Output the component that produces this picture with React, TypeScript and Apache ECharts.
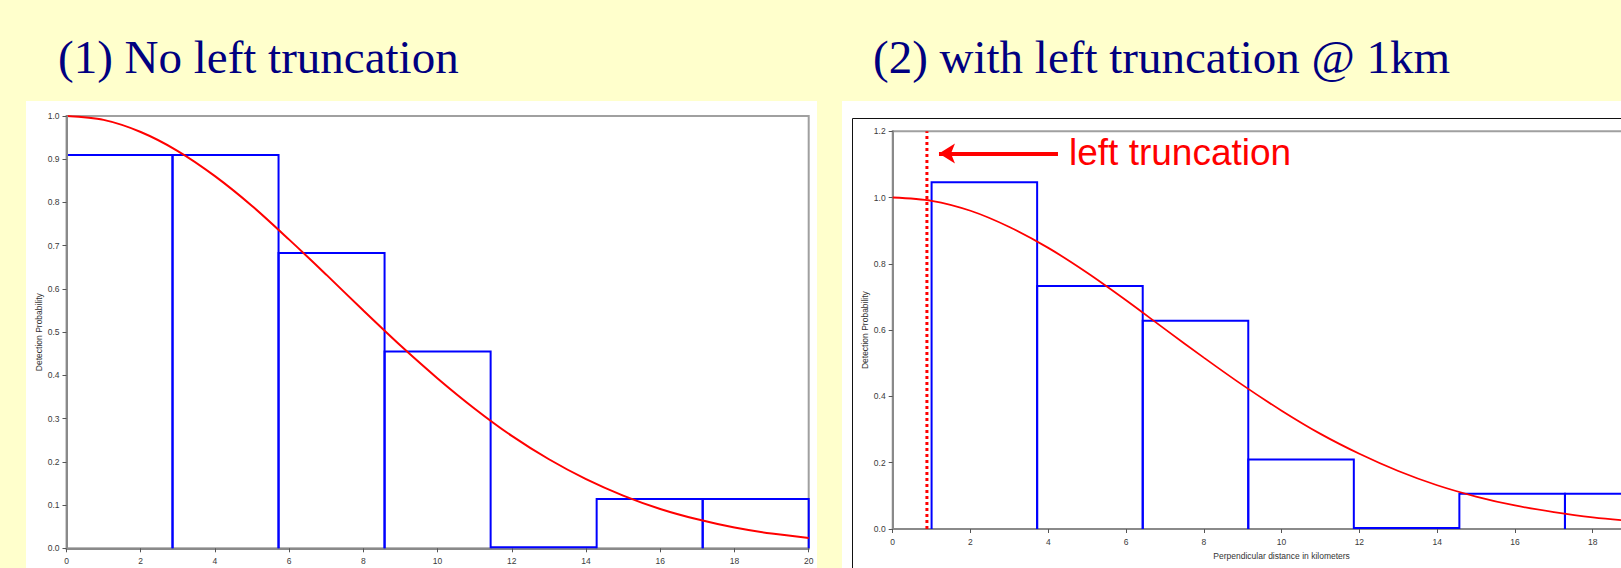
import React, { useEffect, useRef } from "react";
import * as echarts from "echarts";

// ---- data ----
const TITLE_LEFT = "(1) No left truncation";
const TITLE_RIGHT = "(2) with left truncation @ 1km";
const ANNOTATION = "left truncation";
const X_NAME = "Perpendicular distance in kilometers";
const Y_NAME = "Detection Probability";

const LEFT_BIN_EDGES = [0, 2.857, 5.714, 8.571, 11.429, 14.286, 17.143, 20];
const LEFT_BIN_HEIGHTS = [0.91, 0.91, 0.683, 0.455, 0, 0.114, 0.114];
const RIGHT_BIN_EDGES = [1, 3.714, 6.429, 9.143, 11.857, 14.571, 17.286, 20];
const RIGHT_BIN_HEIGHTS = [1.046, 0.733, 0.628, 0.21, 0, 0.106, 0.106];

const CURVE_X = [0, 1, 2, 3, 4, 5, 6, 7, 8, 9, 10, 11, 12, 13, 14, 15, 16, 17, 18, 19, 20];
const LEFT_CURVE_Y = [1.0, 0.991, 0.963, 0.919, 0.861, 0.792, 0.714, 0.633, 0.55, 0.469, 0.393, 0.323, 0.26, 0.206, 0.16, 0.122, 0.091, 0.067, 0.048, 0.034, 0.024];
const RIGHT_CURVE_Y = [1.0, 0.99, 0.96, 0.911, 0.848, 0.773, 0.69, 0.603, 0.517, 0.434, 0.357, 0.287, 0.227, 0.175, 0.132, 0.098, 0.071, 0.051, 0.035, 0.024, 0.016];

const TRUNCATION_X = 0.88;
const ARROW_FROM = [4.25, 1.133];
const ARROW_TO = [1.19, 1.133];

const LEFT_Y_MAX = 1.0;
const LEFT_Y_STEP = 0.1;
const RIGHT_Y_MAX = 1.2;
const RIGHT_Y_STEP = 0.2;
const X_MAX = 20;
const X_STEP = 2;

const BLUE = "#0000ff";
const RED = "#ff0000";
const AXIS_GRAY = "#8a8a8a";
const LABEL_COLOR = "#3a3a3a";
const FONT = "'Liberation Sans', Arial, sans-serif";

function bins(edges: number[], heights: number[]) {
  return heights.map((h, i) => [edges[i], edges[i + 1], h]);
}

function histRender(params: any, api: any) {
  const x0 = api.value(0);
  const x1 = api.value(1);
  const h = api.value(2);
  const a = api.coord([x0, 0]);
  const b = api.coord([x0, h]);
  const c = api.coord([x1, h]);
  const d = api.coord([x1, 0]);
  let pts: number[][];
  if (h === 0) pts = [[a[0], a[1] - 1], [d[0], d[1] - 1]];
  else if (x0 === 0) pts = [b, c, d]; // left side hidden under the y axis
  else pts = [a, b, c, d];
  return {
    type: "polyline",
    shape: { points: pts },
    style: { fill: "none", stroke: BLUE, lineWidth: 2 },
  };
}

function xAxisCfg(gridIndex: number, withName: boolean) {
  return {
    gridIndex,
    type: "value",
    min: 0,
    max: X_MAX,
    interval: X_STEP,
    z: 1,
    axisLine: { show: true, lineStyle: { color: AXIS_GRAY, width: 2 } },
    axisTick: { show: true, length: 4, lineStyle: { color: "#555", width: 1 } },
    axisLabel: {
      fontSize: 8.5,
      color: LABEL_COLOR,
      margin: 8,
      fontFamily: FONT,
      showMaxLabel: !withName,
    },
    splitLine: { show: false },
    name: withName ? X_NAME : "",
    nameLocation: "middle",
    nameGap: 22,
    nameTextStyle: { fontSize: 8.5, color: "#333", fontFamily: FONT },
  };
}

function yAxisCfg(gridIndex: number, max: number, step: number, z: number, gap: number) {
  return {
    gridIndex,
    type: "value",
    min: 0,
    max,
    interval: step,
    z,
    axisLine: { show: true, lineStyle: { color: AXIS_GRAY, width: 2 } },
    axisTick: { show: true, length: 4, lineStyle: { color: "#555", width: 1 } },
    axisLabel: {
      fontSize: 8.5,
      color: LABEL_COLOR,
      margin: 7,
      fontFamily: FONT,
      formatter: (v: number) => v.toFixed(1),
    },
    splitLine: { show: false },
    name: Y_NAME,
    nameLocation: "middle",
    nameGap: gap,
    nameTextStyle: { fontSize: 8.5, color: "#333", fontFamily: FONT },
  };
}

export default function App() {
  const ref = useRef<HTMLDivElement>(null);

  useEffect(() => {
    if (!ref.current) return;
    const chart = echarts.init(ref.current, undefined, { renderer: "svg" });

    const option: any = {
      animation: false,
      backgroundColor: "#FFFFCC",
      grid: [
        {
          left: 66.5,
          top: 116,
          width: 742.2,
          height: 432.3,
          show: true,
          borderColor: "#a0a0a0",
          borderWidth: 2,
          backgroundColor: "transparent",
        },
        {
          left: 892.7,
          top: 131.2,
          width: 777.8,
          height: 397.8,
          show: true,
          borderColor: "#a0a0a0",
          borderWidth: 2,
          backgroundColor: "transparent",
        },
      ],
      xAxis: [xAxisCfg(0, false), xAxisCfg(1, true)],
      yAxis: [
        yAxisCfg(0, LEFT_Y_MAX, LEFT_Y_STEP, 5, 21),
        yAxisCfg(1, RIGHT_Y_MAX, RIGHT_Y_STEP, 0, 22),
      ],
      graphic: [
        {
          type: "rect",
          z: -10,
          silent: true,
          shape: { x: 26, y: 101, width: 791, height: 480 },
          style: { fill: "#ffffff" },
        },
        {
          type: "rect",
          z: -10,
          silent: true,
          shape: { x: 842, y: 101, width: 900, height: 480 },
          style: { fill: "#ffffff" },
        },
        {
          type: "rect",
          z: -9,
          silent: true,
          shape: { x: 852.5, y: 118.5, width: 880, height: 480 },
          style: { fill: "none", stroke: "#111", lineWidth: 1 },
        },
        {
          type: "text",
          z: 10,
          x: 58,
          y: 57,
          style: {
            text: TITLE_LEFT,
            fontFamily: "'Liberation Serif', 'Times New Roman', serif",
            fontSize: 47,
            fill: "#000080",
            verticalAlign: "middle",
          },
        },
        {
          type: "text",
          z: 10,
          x: 873,
          y: 57,
          style: {
            text: TITLE_RIGHT,
            fontFamily: "'Liberation Serif', 'Times New Roman', serif",
            fontSize: 47,
            fill: "#000080",
            verticalAlign: "middle",
          },
        },
        {
          type: "text",
          z: 10,
          x: 1069,
          y: 152,
          style: {
            text: ANNOTATION,
            fontFamily: FONT,
            fontSize: 37,
            fill: RED,
            verticalAlign: "middle",
          },
        },
      ],
      series: [
        {
          type: "custom",
          xAxisIndex: 0,
          yAxisIndex: 0,
          renderItem: histRender,
          encode: { x: [0, 1], y: 2 },
          data: bins(LEFT_BIN_EDGES, LEFT_BIN_HEIGHTS),
          clip: false,
          z: 2,
        },
        {
          type: "line",
          xAxisIndex: 0,
          yAxisIndex: 0,
          data: CURVE_X.map((x, i) => [x, LEFT_CURVE_Y[i]]),
          smooth: 0.3,
          symbol: "none",
          lineStyle: { color: RED, width: 2 },
          z: 3,
        },
        {
          type: "custom",
          xAxisIndex: 1,
          yAxisIndex: 1,
          renderItem: histRender,
          encode: { x: [0, 1], y: 2 },
          data: bins(RIGHT_BIN_EDGES, RIGHT_BIN_HEIGHTS),
          clip: false,
          z: 2,
        },
        {
          type: "line",
          xAxisIndex: 1,
          yAxisIndex: 1,
          data: CURVE_X.map((x, i) => [x, RIGHT_CURVE_Y[i]]),
          smooth: 0.3,
          symbol: "none",
          lineStyle: { color: RED, width: 1.8 },
          z: 3,
        },
        {
          type: "line",
          xAxisIndex: 1,
          yAxisIndex: 1,
          data: [
            [TRUNCATION_X, 0],
            [TRUNCATION_X, RIGHT_Y_MAX],
          ],
          symbol: "none",
          lineStyle: { color: RED, width: 3, type: [3, 3] },
          z: 4,
          markLine: {
            silent: true,
            symbol: ["none", "arrow"],
            symbolSize: [15, 16],
            lineStyle: { color: RED, width: 4, type: "solid" },
            label: { show: false },
            data: [[{ coord: ARROW_FROM }, { coord: ARROW_TO }]],
          },
        },
      ],
    };

    chart.setOption(option);
    return () => chart.dispose();
  }, []);

  return (
    <div
      style={{
        position: "fixed",
        left: 0,
        top: 0,
        width: 1621,
        height: 568,
        overflow: "hidden",
        background: "#FFFFCC",
      }}
    >
      <div ref={ref} style={{ width: 1720, height: 568 }} />
    </div>
  );
}
